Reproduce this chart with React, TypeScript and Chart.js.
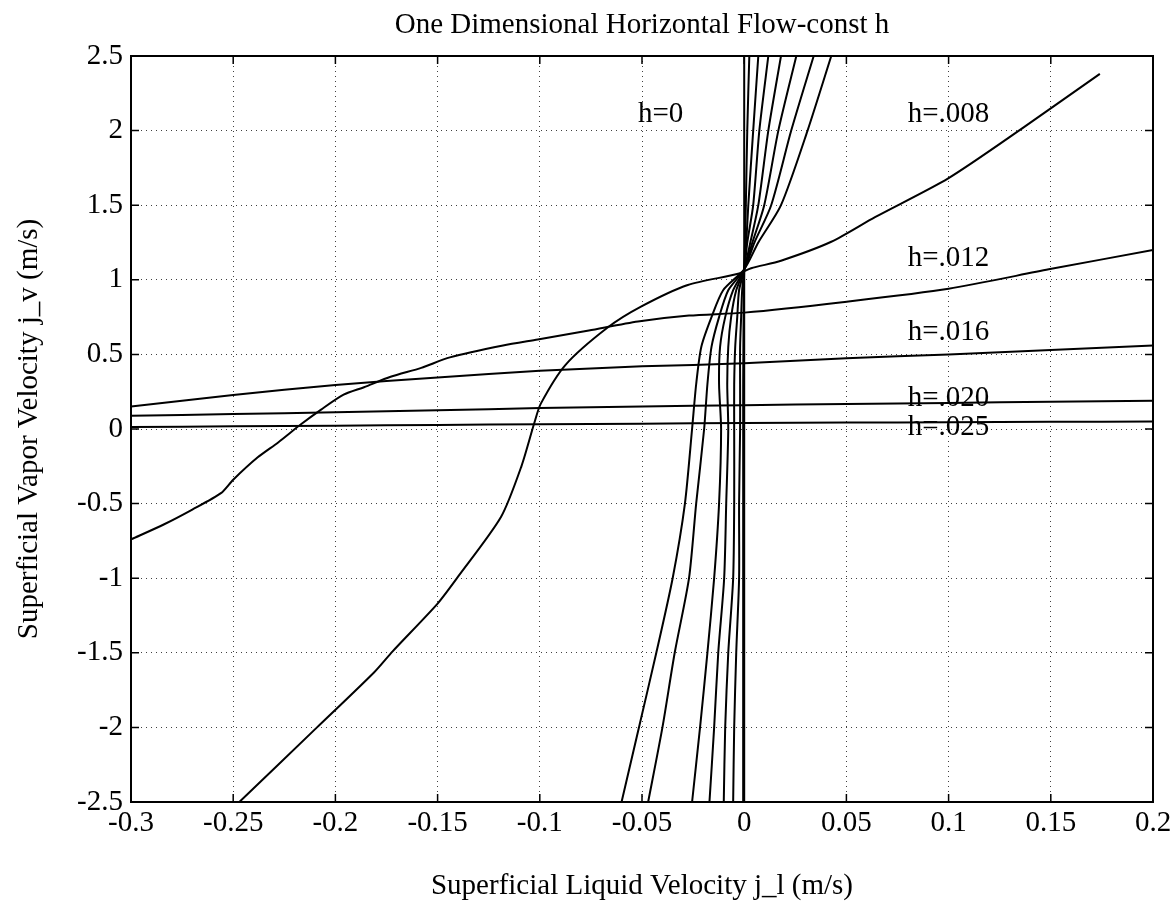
import { useEffect, useRef } from 'react';
import { Chart, registerables } from 'chart.js';

Chart.register(...registerables);

const WIDTH = 1176;
const HEIGHT = 904;
const SERIF = '"Liberation Serif", "Times New Roman", Times, serif';

// Axis ticks
const xTicks = [-0.3, -0.25, -0.2, -0.15, -0.1, -0.05, 0, 0.05, 0.1, 0.15, 0.2];
const xTickLabels = ['-0.3', '-0.25', '-0.2', '-0.15', '-0.1', '-0.05', '0', '0.05', '0.1', '0.15', '0.2'];
const yTicks = [-2.5, -2, -1.5, -1, -0.5, 0, 0.5, 1, 1.5, 2, 2.5];
const yTickLabels = ['-2.5', '-2', '-1.5', '-1', '-0.5', '0', '0.5', '1', '1.5', '2', '2.5'];

// h = 0: vertical line on j_l = 0
const h000X = [0, 0];
const h000Y = [-2.5, 2.5];

// small-h family (h = .001 ... .007), sampled at common j_v levels
const bundleY = [-2.5, -2.0, -1.5, -1.0, -0.5, 0, 0.3, 0.55, 0.75, 0.93, 1.07, 1.25, 1.5, 2.0, 2.5];
const h001X = [-0.0005, -0.0005, -0.0005, -0.0005, -0.0005, -0.0005, -0.0005, -0.0004, -0.0003, -0.0002, 0, 0.0004, 0.0008, 0.0015, 0.0025];
const h002X = [-0.0054, -0.0049, -0.0039, -0.0025, -0.0025, -0.002, -0.002, -0.002, -0.0015, -0.001, 0, 0.001, 0.002, 0.0044, 0.0069];
const h003X = [-0.010, -0.0093, -0.0078, -0.0054, -0.0049, -0.0049, -0.0049, -0.0044, -0.0034, -0.0025, 0, 0.0015, 0.0044, 0.0074, 0.0118];
const h004X = [-0.017, -0.0147, -0.0127, -0.0098, -0.0088, -0.0078, -0.0083, -0.0078, -0.0064, -0.0039, 0, 0.003, 0.0069, 0.0118, 0.018];
const h005X = [-0.0255, -0.0216, -0.018, -0.0147, -0.0123, -0.0113, -0.0123, -0.0118, -0.0093, -0.0054, 0, 0.004, 0.0098, 0.0167, 0.0255];
const h006X = [-0.047, -0.040, -0.034, -0.027, -0.0235, -0.0196, -0.018, -0.016, -0.0123, -0.0078, 0, 0.005, 0.0132, 0.023, 0.034];
const h007X = [-0.060, -0.0515, -0.043, -0.035, -0.029, -0.0255, -0.0235, -0.021, -0.016, -0.0103, 0, 0.0069, 0.018, 0.031, 0.0426];

// h = .008
const h008X = [-0.247, -0.209, -0.181, -0.172, -0.15, -0.14, -0.119, -0.109, -0.1027, -0.0995, -0.0874, -0.0668, -0.0505, -0.0276, -0.003, 0.0034, 0.018, 0.0426, 0.064, 0.0998, 0.136, 0.174];
const h008Y = [-2.5, -2.0, -1.63, -1.49, -1.17, -0.99, -0.59, -0.25, 0.04, 0.17, 0.43, 0.68, 0.82, 0.965, 1.04, 1.077, 1.128, 1.255, 1.42, 1.68, 2.015, 2.38];

// h = .012
const h012X = [-0.3, -0.284, -0.27, -0.256, -0.25, -0.238, -0.228, -0.217, -0.207, -0.196, -0.186, -0.173, -0.158, -0.144, -0.118, -0.101, -0.076, -0.052, -0.027, 0, 0.048, 0.1, 0.149, 0.2];
const h012Y = [-0.74, -0.64, -0.54, -0.43, -0.34, -0.19, -0.09, 0.03, 0.13, 0.23, 0.28, 0.35, 0.41, 0.48, 0.56, 0.6, 0.66, 0.72, 0.76, 0.78, 0.85, 0.94, 1.07, 1.2];

// h = .016, .020, .025
const wideX = [-0.3, -0.25, -0.2, -0.15, -0.1, -0.05, 0, 0.05, 0.1, 0.15, 0.2];
const h016Y = [0.15, 0.228, 0.295, 0.345, 0.39, 0.42, 0.44, 0.475, 0.5, 0.53, 0.56];
const h020Y = [0.088, 0.1, 0.112, 0.126, 0.14, 0.15, 0.16, 0.168, 0.175, 0.182, 0.19];
const h025Y = [0.013, 0.018, 0.022, 0.027, 0.032, 0.036, 0.04, 0.043, 0.045, 0.048, 0.05];

// curve labels (left edge x, baseline y in data units)
const labelText = ['h=0', 'h=.008', 'h=.012', 'h=.016', 'h=.020', 'h=.025'];
const labelX = [-0.052, 0.08, 0.08, 0.08, 0.08, 0.08];
const labelY = [2.06, 2.06, 1.09, 0.595, 0.155, -0.04];

const titleText = 'One Dimensional Horizontal Flow-const h';
const xAxisTitle = 'Superficial Liquid Velocity j_l (m/s)';
const yAxisTitle = 'Superficial Vapor Velocity j_v (m/s)';

const pair = (xs: number[], ys: number[]) => xs.map((x, i) => ({ x, y: ys[i] }));

const lookup = (ticks: number[], labels: string[], v: number) => {
  const i = ticks.findIndex((t) => Math.abs(t - v) < 1e-9);
  return i >= 0 ? labels[i] : '';
};

const framePlugin = {
  id: 'matlabFrame',
  afterDraw(chart: any) {
    const { ctx, chartArea, scales } = chart;
    const { left, right, top, bottom } = chartArea;
    const xs = scales.x;
    const ys = scales.y;
    ctx.save();
    ctx.strokeStyle = '#000';
    ctx.lineWidth = 2;
    ctx.strokeRect(left, top, right - left, bottom - top);

    // inward tick marks on all four sides
    ctx.lineWidth = 1.5;
    ctx.beginPath();
    const tl = 8;
    xTicks.forEach((v) => {
      const px = xs.getPixelForValue(v);
      ctx.moveTo(px, bottom);
      ctx.lineTo(px, bottom - tl);
      ctx.moveTo(px, top);
      ctx.lineTo(px, top + tl);
    });
    yTicks.forEach((v) => {
      const py = ys.getPixelForValue(v);
      ctx.moveTo(left, py);
      ctx.lineTo(left + tl, py);
      ctx.moveTo(right, py);
      ctx.lineTo(right - tl, py);
    });
    ctx.stroke();

    ctx.fillStyle = '#000';
    ctx.font = `29px ${SERIF}`;
    ctx.textAlign = 'left';
    ctx.textBaseline = 'alphabetic';
    labelText.forEach((t, i) => {
      ctx.fillText(t, xs.getPixelForValue(labelX[i]), ys.getPixelForValue(labelY[i]));
    });

    const cx = (left + right) / 2;
    ctx.textAlign = 'center';
    ctx.fillText(titleText, cx, 33);
    ctx.fillText(xAxisTitle, cx, 894);

    ctx.translate(29, (top + bottom) / 2);
    ctx.rotate(-Math.PI / 2);
    ctx.textBaseline = 'middle';
    ctx.fillText(yAxisTitle, 0, 0);
    ctx.restore();
  },
};

export default function App() {
  const canvasRef = useRef<HTMLCanvasElement | null>(null);

  useEffect(() => {
    const canvas = canvasRef.current;
    if (!canvas) return;

    const series = [
      pair(h000X, h000Y),
      pair(h001X, bundleY),
      pair(h002X, bundleY),
      pair(h003X, bundleY),
      pair(h004X, bundleY),
      pair(h005X, bundleY),
      pair(h006X, bundleY),
      pair(h007X, bundleY),
      pair(h008X, h008Y),
      pair(h012X, h012Y),
      pair(wideX, h016Y),
      pair(wideX, h020Y),
      pair(wideX, h025Y),
    ];

    const tickFont = { family: SERIF, size: 29 };

    const chart = new Chart(canvas, {
      type: 'scatter',
      data: {
        datasets: series.map((data) => ({
          data,
          showLine: true,
          borderColor: '#000',
          borderWidth: 2,
          pointRadius: 0,
          tension: 0.25,
          fill: false,
        })),
      },
      options: {
        animation: false,
        responsive: false,
        devicePixelRatio: 1,
        layout: { padding: { top: 56, right: 23, left: 0, bottom: 0 } },
        plugins: {
          legend: { display: false },
          tooltip: { enabled: false },
          title: { display: false },
        },
        scales: {
          x: {
            type: 'linear',
            min: -0.3,
            max: 0.2,
            afterBuildTicks: (s: any) => {
              s.ticks = xTicks.map((value) => ({ value }));
            },
            afterFit: (s: any) => {
              s.height = 102;
            },
            ticks: {
              color: '#000',
              font: tickFont,
              padding: 4,
              maxRotation: 0,
              autoSkip: false,
              callback: (v: any) => lookup(xTicks, xTickLabels, Number(v)),
            },
            grid: { drawTicks: false, color: 'rgba(0,0,0,0.75)', lineWidth: 1 },
            border: { display: false, dash: [1, 4] },
          },
          y: {
            type: 'linear',
            min: -2.5,
            max: 2.5,
            afterBuildTicks: (s: any) => {
              s.ticks = yTicks.map((value) => ({ value }));
            },
            afterFit: (s: any) => {
              s.width = 131;
            },
            ticks: {
              color: '#000',
              font: tickFont,
              padding: 8,
              autoSkip: false,
              callback: (v: any) => lookup(yTicks, yTickLabels, Number(v)),
            },
            grid: { drawTicks: false, color: 'rgba(0,0,0,0.75)', lineWidth: 1 },
            border: { display: false, dash: [1, 4] },
          },
        },
      },
      plugins: [framePlugin],
    } as any);

    return () => chart.destroy();
  }, []);

  return (
    <div style={{ position: 'absolute', left: 0, top: 0, width: WIDTH, height: HEIGHT, background: '#fff' }}>
      <canvas ref={canvasRef} width={WIDTH} height={HEIGHT} style={{ display: 'block' }} />
    </div>
  );
}
